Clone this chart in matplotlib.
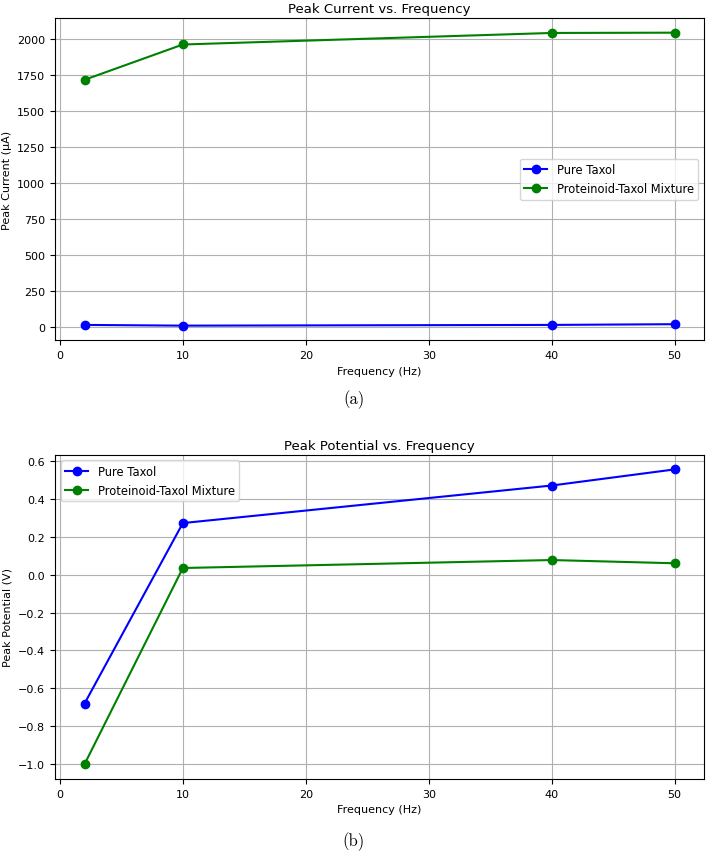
import matplotlib
matplotlib.use("Agg")
import matplotlib.pyplot as plt

freq = [2, 10, 40, 50]
current_pure = [15, 10, 15, 20]
current_mix = [1715, 1960, 2040, 2042]
potential_pure = [-0.68, 0.272, 0.47, 0.555]
potential_mix = [-1.0, 0.035, 0.077, 0.06]

plt.rcParams['font.family'] = ['DejaVu Sans']
plt.rcParams['font.size'] = 8

fig = plt.figure(figsize=(7.08, 8.53), dpi=100)

ax1 = fig.add_axes([0.0777, 0.5999, 0.9167, 0.3778])
ax1.plot(freq, current_pure, marker='o', color='blue', label='Pure Taxol')
ax1.plot(freq, current_mix, marker='o', color='green', label='Proteinoid-Taxol Mixture')
ax1.set_title('Peak Current vs. Frequency', fontsize=9.5, pad=4)
ax1.set_xlabel('Frequency (Hz)')
ax1.set_ylabel('Peak Current (μA)')
ax1.grid(True)
ax1.legend(loc='center right', fontsize=8.3)

ax2 = fig.add_axes([0.0777, 0.0856, 0.9167, 0.3802])
ax2.plot(freq, potential_pure, marker='o', color='blue', label='Pure Taxol')
ax2.plot(freq, potential_mix, marker='o', color='green', label='Proteinoid-Taxol Mixture')
ax2.set_title('Peak Potential vs. Frequency', fontsize=9.5, pad=4)
ax2.set_xlabel('Frequency (Hz)')
ax2.set_ylabel('Peak Potential (V)')
ax2.grid(True)
ax2.legend(loc='upper left', fontsize=8.3)

fig.text(0.5, 1 - 400 / 853, '(a)', ha='center', va='center', fontsize=12, family='cmr10')
fig.text(0.5, 1 - 842 / 853, '(b)', ha='center', va='center', fontsize=12, family='cmr10')

fig.savefig('out.png', dpi=100)
